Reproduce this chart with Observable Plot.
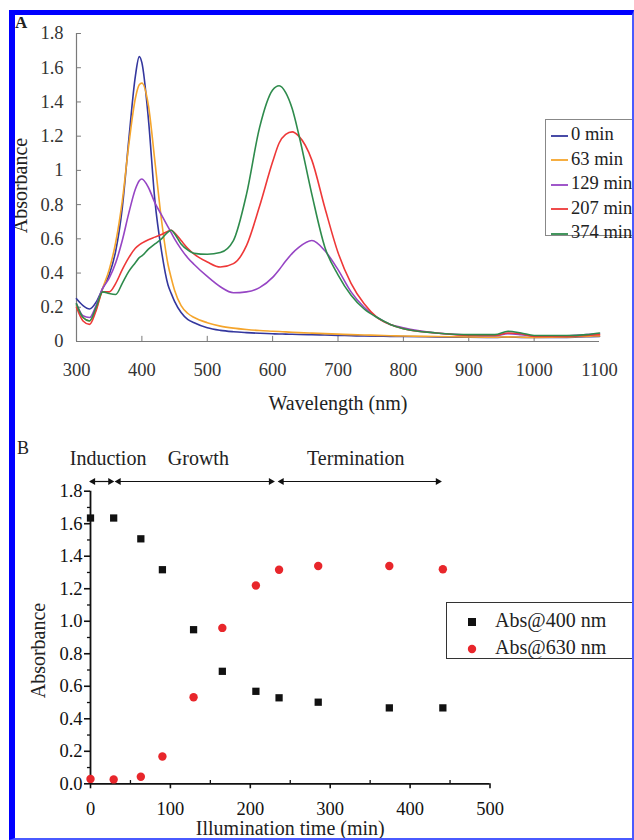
<!DOCTYPE html>
<html><head><meta charset="utf-8">
<script src="https://cdn.jsdelivr.net/npm/d3@7"></script>
<script src="https://cdn.jsdelivr.net/npm/@observablehq/plot@0.6"></script>
<style>
body{margin:0;background:#fff;}
#wrap{position:relative;width:634px;height:840px;overflow:hidden;font-family:"Liberation Serif","Times New Roman",serif;background:#fff;color:#222;}
#frame{position:absolute;left:9px;top:10px;width:617px;height:823px;border-left:6px solid #0000ff;border-top:5px solid #0000ff;border-right:2px solid #4a5aff;border-bottom:2px solid #4a5aff;pointer-events:none;z-index:5;}
.panel{position:absolute;left:0;}
.plabel{position:absolute;font-weight:bold;line-height:1;}
.leg{position:absolute;background:#fff;box-sizing:border-box;}
.item{position:absolute;left:0;white-space:nowrap;}
.item svg{vertical-align:middle;}
</style></head>
<body>
<div id="wrap">
  <div id="pa" class="panel" style="top:0"></div>
  <div id="pb" class="panel" style="top:420px"></div>
  <div class="plabel" style="left:15px;top:14px;font-size:17px;">A</div>
  <div class="plabel" style="left:17px;top:439px;font-size:18px;font-weight:normal;">B</div>
  <div id="legA" class="leg" style="left:545px;top:119px;width:130px;height:117px;border:1px solid #888;"></div>
  <div id="legB" class="leg" style="left:446px;top:602px;width:220px;height:57px;border:1px solid #333;"></div>
  <div id="frame"></div>
</div>
<script>
// ---------- Panel A: UV-vis spectra ----------
const wavelengths = [300,310,320,330,340,350,360,370,380,390,396,400,410,420,430,440,445,450,460,470,480,500,520,540,560,580,600,610,620,630,640,660,680,700,720,740,760,780,800,850,900,940,960,980,1000,1050,1080,1100];
const abs0min   = [0.25,0.21,0.19,0.23,0.31,0.39,0.53,0.78,1.18,1.55,1.665,1.63,1.30,0.82,0.53,0.33,0.28,0.235,0.17,0.13,0.11,0.08,0.065,0.057,0.052,0.048,0.045,0.044,0.043,0.042,0.041,0.040,0.038,0.036,0.034,0.032,0.031,0.030,0.029,0.027,0.025,0.024,0.026,0.024,0.023,0.024,0.028,0.030];
const abs63min  = [0.21,0.14,0.12,0.19,0.31,0.42,0.58,0.82,1.15,1.42,1.50,1.51,1.38,1.05,0.71,0.45,0.37,0.30,0.21,0.165,0.14,0.11,0.09,0.078,0.07,0.064,0.06,0.058,0.056,0.054,0.052,0.049,0.046,0.043,0.040,0.038,0.036,0.034,0.032,0.029,0.026,0.025,0.027,0.025,0.024,0.026,0.030,0.033];
const abs129min = [0.22,0.15,0.14,0.21,0.31,0.37,0.46,0.59,0.75,0.89,0.94,0.95,0.90,0.81,0.74,0.67,0.635,0.60,0.54,0.49,0.45,0.38,0.32,0.285,0.29,0.315,0.375,0.42,0.47,0.515,0.55,0.59,0.53,0.42,0.29,0.20,0.14,0.10,0.08,0.05,0.038,0.035,0.045,0.04,0.032,0.033,0.04,0.045];
const abs207min = [0.20,0.12,0.10,0.18,0.29,0.29,0.34,0.42,0.49,0.545,0.565,0.575,0.595,0.61,0.625,0.645,0.65,0.635,0.59,0.545,0.51,0.465,0.435,0.455,0.56,0.79,1.05,1.16,1.21,1.225,1.20,1.06,0.78,0.52,0.34,0.22,0.14,0.10,0.075,0.05,0.035,0.035,0.05,0.045,0.03,0.03,0.035,0.04];
const abs374min = [0.22,0.14,0.12,0.20,0.29,0.28,0.275,0.34,0.41,0.46,0.49,0.50,0.54,0.57,0.60,0.64,0.65,0.63,0.57,0.535,0.515,0.51,0.52,0.59,0.86,1.25,1.47,1.495,1.455,1.36,1.21,0.86,0.55,0.39,0.27,0.19,0.14,0.10,0.075,0.05,0.04,0.04,0.06,0.05,0.035,0.035,0.04,0.05];
const seriesNames = ["0 min","63 min","129 min","207 min","374 min"];
const seriesColors = ["#34379e","#f5a52c","#9645c4","#ee3838","#2e8b4c"];
const wlTicks = [300,400,500,600,700,800,900,1000,1100];
const absTicksA = [0,0.2,0.4,0.6,0.8,1,1.2,1.4,1.6,1.8];

// ---------- Panel B: kinetics ----------
const times  = [0,29,63,90,129,165,207,236,285,374,441];
const abs400 = [1.635,1.635,1.507,1.317,0.948,0.692,0.569,0.529,0.502,0.467,0.467];
const abs630 = [0.030,0.027,0.043,0.168,0.532,0.959,1.220,1.317,1.340,1.340,1.320];
const timeTicks = [0,100,200,300,400,500];
const timeMinor = [50,150,250,350,450];
const absTicksB = [0,0.2,0.4,0.6,0.8,1.0,1.2,1.4,1.6,1.8];
const absMinorB = [0.1,0.3,0.5,0.7,0.9,1.1,1.3,1.5,1.7];
const phaseNames = ["Induction","Growth","Termination"];
const phaseStart = [0,32,236];
const phaseEnd   = [28,229,438];
const phaseLabelAt = [22,135,332];
const legendB = ["Abs@400 nm","Abs@630 nm"];

const spectra = [abs0min,abs63min,abs129min,abs207min,abs374min];
const rowsA = [];
spectra.forEach((arr,i)=>arr.forEach((a,j)=>rowsA.push({wl:wavelengths[j],a,series:seriesNames[i]})));

const axisGray = "#7a7a7a";
const plotA = Plot.plot({
  width:634, height:420,
  marginLeft:76, marginRight:35, marginTop:33, marginBottom:79,
  x:{domain:[300,1100]},
  y:{domain:[0,1.8]},
  color:{domain:seriesNames, range:seriesColors},
  style:{fontFamily:"Liberation Serif, Times New Roman, serif", fontSize:"18.5px", color:"#333", background:"transparent", overflow:"visible"},
  marks:[
    Plot.ruleX(wlTicks.slice(1,-1), {x:d=>d, y1:0, y2:0.03, stroke:axisGray}),
    Plot.ruleY(absTicksA.slice(1), {y:d=>d, x1:300, x2:307.6, stroke:axisGray}),
    Plot.ruleY([0], {stroke:axisGray, strokeWidth:1.2}),
    Plot.ruleX([300], {stroke:axisGray, strokeWidth:1.2}),
    Plot.axisX({ticks:wlTicks, tickSize:0, tickPadding:21, tickFormat:d=>String(d), label:null}),
    Plot.axisY({ticks:absTicksA, tickSize:0, tickPadding:13, tickFormat:d=>String(+d.toFixed(1)), label:null}),
    Plot.line(rowsA, {x:"wl", y:"a", z:"series", stroke:"series", curve:"monotone-x", strokeWidth:1.6}),
    Plot.text(["Absorbance"], {text:d=>d, frameAnchor:"left", textAnchor:"middle", lineAnchor:"middle", rotate:-90, dx:-56, dy:-2, fontSize:20, fill:"#222"}),
    Plot.text(["Wavelength (nm)"], {text:d=>d, frameAnchor:"bottom", lineAnchor:"middle", dy:62, fontSize:20, fill:"#222"})
  ]
});
document.getElementById("pa").appendChild(plotA);

const rowsB = times.map((t,i)=>({t, a400:abs400[i], a630:abs630[i]}));
const phases = phaseNames.map((n,i)=>({name:n, start:phaseStart[i], end:phaseEnd[i], at:phaseLabelAt[i]}));
const plotB = Plot.plot({
  width:634, height:420,
  marginLeft:90, marginRight:144.5, marginTop:70.7, marginBottom:56.7,
  x:{domain:[0,500]},
  y:{domain:[0,1.8]},
  style:{fontFamily:"Liberation Serif, Times New Roman, serif", fontSize:"18.5px", color:"#111", background:"transparent", overflow:"visible"},
  marks:[
    Plot.ruleX(timeMinor, {x:d=>d, y1:0, y2:0.02, stroke:"#111", strokeWidth:1.3}),
    Plot.ruleY(absMinorB, {y:d=>d, x1:0, x2:-3.8, stroke:"#111", strokeWidth:1.3}),
    Plot.axisX({ticks:timeTicks, tickSize:5, tickPadding:13, tickFormat:d=>String(d), label:null, strokeWidth:1.6}),
    Plot.axisY({ticks:absTicksB, tickSize:6, tickPadding:2, tickFormat:d=>d.toFixed(1), label:null, strokeWidth:1.6}),
    Plot.ruleY([0], {stroke:"#111", strokeWidth:1.8}),
    Plot.ruleX([0], {stroke:"#111", strokeWidth:1.8}),
    Plot.ruleY(phases, {y:1.8, dy:-9.7, x1:"start", x2:"end", stroke:"#111", strokeWidth:1.2}),
    Plot.dot(phases, {x:"start", y:1.8, dy:-9.7, dx:2.6, symbol:"triangle", rotate:-90, r:2.6, fill:"#111"}),
    Plot.dot(phases, {x:"end", y:1.8, dy:-9.7, dx:-2.6, symbol:"triangle", rotate:90, r:2.6, fill:"#111"}),
    Plot.text(phases, {x:"at", y:1.8, dy:-33, text:"name", fontSize:20, fill:"#222"}),
    Plot.dot(rowsB, {x:"t", y:"a400", symbol:"square", r:4.1, fill:"#111"}),
    Plot.dot(rowsB, {x:"t", y:"a630", symbol:"circle", r:4.2, fill:"#e8262b"}),
    Plot.text(["Absorbance"], {text:d=>d, frameAnchor:"left", textAnchor:"middle", lineAnchor:"middle", rotate:-90, dx:-52, dy:13, fontSize:20, fill:"#222"}),
    Plot.text(["Illumination time (min)"], {text:d=>d, frameAnchor:"bottom", lineAnchor:"middle", dy:45, fontSize:20, fill:"#222"})
  ]
});
document.getElementById("pb").appendChild(plotB);

// Legend A (line swatches)
const legA = document.getElementById("legA");
seriesNames.forEach((n,i)=>{
  const it = document.createElement("div");
  it.className = "item";
  it.style.top = (14 + i*24.5 - 12) + "px";
  it.style.height = "24px";
  it.style.lineHeight = "24px";
  it.style.fontSize = "18.5px";
  it.style.left = "5px";
  it.innerHTML = `<svg width="17" height="4" style="margin-right:3px"><line x1="0" x2="17" y1="2" y2="2" stroke="${seriesColors[i]}" stroke-width="1.8"/></svg>${n}`;
  legA.appendChild(it);
});
// Legend B (symbols)
const legB = document.getElementById("legB");
const legBSym = [
  `<svg width="10" height="10"><rect x="1" y="1" width="8" height="8" fill="#111"/></svg>`,
  `<svg width="10" height="10"><circle cx="5" cy="5" r="4.2" fill="#e8262b"/></svg>`
];
legendB.forEach((n,i)=>{
  const it = document.createElement("div");
  it.className = "item";
  it.style.top = (17 + i*26.7 - 13) + "px";
  it.style.height = "26px";
  it.style.lineHeight = "26px";
  it.style.fontSize = "20px";
  it.style.left = "20px";
  it.innerHTML = `${legBSym[i]}<span style="margin-left:18px;">${n}</span>`;
  legB.appendChild(it);
});
</script>
</body></html>
